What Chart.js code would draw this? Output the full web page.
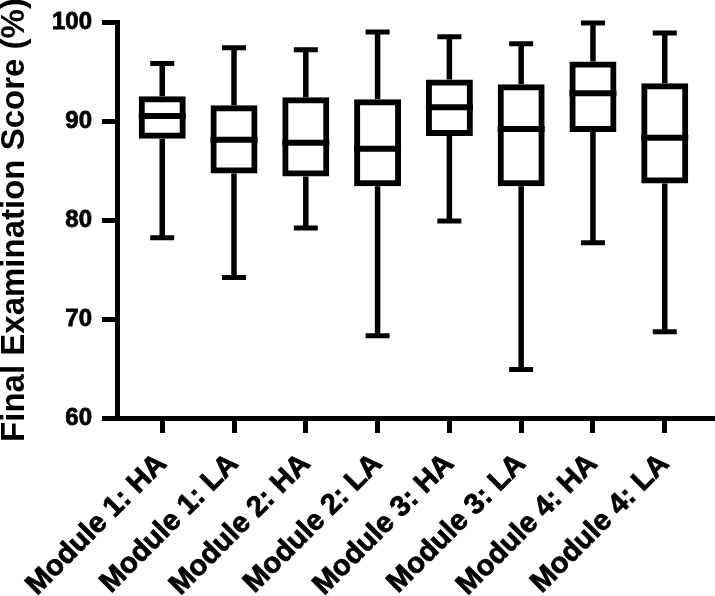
<!DOCTYPE html>
<html>
<head>
<meta charset="utf-8">
<script src="https://cdn.jsdelivr.net/npm/chart.js@4"></script>
<style>
  html, body { margin: 0; padding: 0; background: #fff; }
  #wrap { width: 715px; height: 596px; }
</style>
</head>
<body>
<div id="wrap"><canvas id="c" width="715" height="596"></canvas></div>
<script>
// box plot: final exam score per module / group
const labels = ["Module 1: HA", "Module 1: LA", "Module 2: HA", "Module 2: LA",
                "Module 3: HA", "Module 3: LA", "Module 4: HA", "Module 4: LA"];
const mins    = [78.2, 74.2, 79.2, 68.3, 79.9, 64.9, 77.7, 68.7];
const q1s     = [88.5, 85.0, 84.7, 83.7, 88.8, 83.7, 89.2, 84.0];
const medians = [90.5, 88.1, 87.8, 87.2, 91.4, 89.2, 92.8, 88.3];
const q3s     = [92.2, 91.3, 92.1, 91.9, 93.9, 93.4, 95.7, 93.5];
const maxs    = [95.8, 97.4, 97.2, 99.0, 98.5, 97.8, 99.9, 98.9];
const yTicks  = [60, 70, 80, 90, 100];

const FONT = "'Liberation Sans', Arial, Helvetica, sans-serif";
const LW = 5;

// whiskers + medians, drawn from the scales
const boxExtras = {
  id: "boxExtras",
  afterDatasetsDraw(chart) {
    const { ctx, scales: { x, y } } = chart;
    const half = 23.5, cap = 12;
    ctx.save();
    ctx.strokeStyle = "#000";
    ctx.lineCap = "butt";
    labels.forEach((_, i) => {
      const px = x.getPixelForValue(i);
      ctx.lineWidth = 5.5;
      ctx.beginPath();
      ctx.moveTo(px, y.getPixelForValue(q3s[i]) - 3);
      ctx.lineTo(px, y.getPixelForValue(maxs[i]));
      ctx.moveTo(px, y.getPixelForValue(q1s[i]) + 3);
      ctx.lineTo(px, y.getPixelForValue(mins[i]));
      ctx.stroke();
      ctx.lineWidth = LW;
      ctx.beginPath();
      ctx.moveTo(px - cap, y.getPixelForValue(maxs[i]));
      ctx.lineTo(px + cap, y.getPixelForValue(maxs[i]));
      ctx.moveTo(px - cap, y.getPixelForValue(mins[i]));
      ctx.lineTo(px + cap, y.getPixelForValue(mins[i]));
      ctx.stroke();
      ctx.lineWidth = 6;
      ctx.beginPath();
      ctx.moveTo(px - half, y.getPixelForValue(medians[i]));
      ctx.lineTo(px + half, y.getPixelForValue(medians[i]));
      ctx.stroke();
    });
    ctx.restore();
  }
};

const fixPad = (s) => { s.paddingLeft = 0; s.paddingRight = 0; s.paddingTop = 0; s.paddingBottom = 0; };

new Chart(document.getElementById("c"), {
  type: "bar",
  data: {
    datasets: [{
      data: labels.map((_, i) => ({ x: i, y: [q1s[i], q3s[i]] })),
      backgroundColor: "#fff",
      borderColor: "#000",
      borderWidth: 6,
      borderSkipped: false,
      inflateAmount: 3,
      barThickness: 41
    }]
  },
  options: {
    responsive: false,
    animation: false,
    events: [],
    layout: { padding: { top: 22, right: 0, left: 0, bottom: 0 } },
    plugins: { legend: { display: false }, tooltip: { enabled: false } },
    scales: {
      x: {
        type: "linear",
        offset: false,
        min: -0.63,
        max: 7.7,
        afterBuildTicks: (s) => { s.ticks = labels.map((_, i) => ({ value: i })); },
        afterFit: (s) => { s.height = 178; fixPad(s); },
        border: { display: true, color: "#000", width: LW },
        grid: { offset: false, drawOnChartArea: false, drawTicks: true, tickLength: 15, tickWidth: LW, tickColor: "#000" },
        ticks: {
          autoSkip: false,
          minRotation: 45,
          maxRotation: 45,
          padding: 14,
          color: "#000",
          textStrokeColor: "#000",
          textStrokeWidth: 0.8,
          font: { family: FONT, size: 29, weight: "bold" },
          callback: (v) => labels[v]
        }
      },
      y: {
        min: 60,
        max: 100,
        afterBuildTicks: (s) => { s.ticks = yTicks.map((v) => ({ value: v })); },
        afterFit: (s) => { s.width = 117; fixPad(s); },
        border: { display: true, color: "#000", width: LW },
        grid: { drawOnChartArea: false, drawTicks: true, tickLength: 15, tickWidth: LW, tickColor: "#000" },
        ticks: {
          padding: 10,
          color: "#000",
          textStrokeColor: "#000",
          textStrokeWidth: 0.8,
          font: { family: FONT, size: 24, weight: "bold" }
        },
        title: {
          display: true,
          text: "Final Examination Score (%)",
          color: "#000",
          padding: { top: -2 },
          font: { family: FONT, size: 33, weight: "bold", lineHeight: 1 }
        }
      }
    }
  },
  plugins: [boxExtras]
});
</script>
</body>
</html>
